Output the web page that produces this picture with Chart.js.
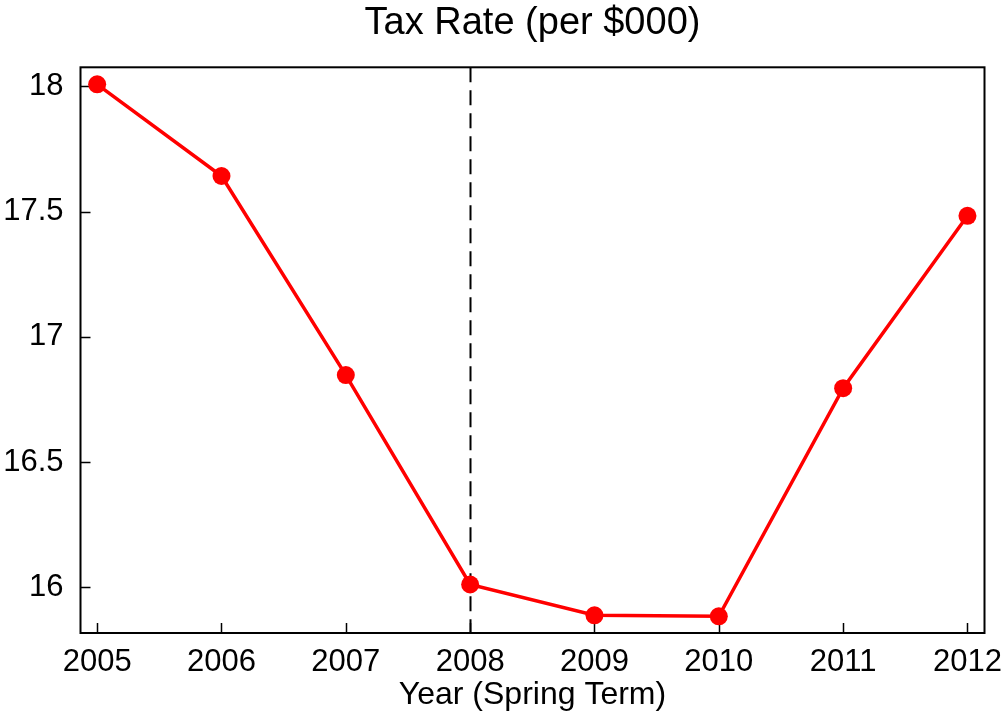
<!DOCTYPE html>
<html lang="en">
<head>
<title>Tax Rate (per $000)</title>
<meta charset="utf-8"/>
<script src="https://cdn.jsdelivr.net/npm/chart.js"></script>
<style>
html, body { margin: 0; padding: 0; background: #fff; }
#wrap { width: 1005px; height: 715px; }
</style>
</head>
<body>
<div id="wrap"><canvas id="chart" width="1005" height="715"></canvas></div>
<script>
"use strict";
const years = [2005, 2006, 2007, 2008, 2009, 2010, 2011, 2012];
const taxRate = [18.008, 17.642, 16.847, 16.011, 15.888, 15.884, 16.795, 17.483];
const yTicks = [16, 16.5, 17, 17.5, 18];
const markerYear = 2008;

const FONT = "'Liberation Sans', Arial, sans-serif";

// box round the plot, inward tick marks and the dashed marker line
const framePlugin = {
  id: "frame",
  beforeDatasetsDraw(chart){
    const ctx = chart.ctx;
    const a = chart.chartArea;
    const xs = chart.scales.x, ys = chart.scales.y;
    ctx.save();
    ctx.strokeStyle = "#000";
    ctx.lineWidth = 1.5;
    ctx.beginPath();
    for(const yr of years){
      const px = Math.round(xs.getPixelForValue(yr)) + 0.5;
      ctx.moveTo(px, a.bottom);
      ctx.lineTo(px, a.bottom - 10);
    }
    for(const v of yTicks){
      const py = Math.round(ys.getPixelForValue(v)) + 0.5;
      ctx.moveTo(a.left, py);
      ctx.lineTo(a.left + 10, py);
    }
    ctx.stroke();
    ctx.lineWidth = 2;
    ctx.strokeRect(a.left, a.top, a.right - a.left, a.bottom - a.top);

    const mx = Math.round(xs.getPixelForValue(markerYear)) + 0.5;
    ctx.lineWidth = 2;
    ctx.setLineDash([15, 8]);
    ctx.beginPath();
    ctx.moveTo(mx, a.top);
    ctx.lineTo(mx, a.bottom);
    ctx.stroke();
    ctx.restore();
  }
};

new Chart(document.getElementById("chart"), {
  type: "line",
  data: {
    datasets: [{
      label: "Tax Rate",
      data: years.map((y, i) => ({x: y, y: taxRate[i]})),
      borderColor: "#ff0000",
      backgroundColor: "#ff0000",
      borderWidth: 3.5,
      pointRadius: 9,
      pointHoverRadius: 9,
      pointBorderWidth: 0,
      tension: 0
    }]
  },
  options: {
    responsive: false,
    animation: false,
    layout: { padding: 0 },
    plugins: {
      legend: { display: false },
      tooltip: { enabled: false },
      title: { display: false }
    },
    scales: {
      x: {
        type: "linear",
        min: 2004.866,
        max: 2012.137,
        afterBuildTicks: (s) => { s.ticks = years.map(v => ({value: v})); },
        afterFit: (s) => { s.height = 82; s.paddingLeft = 0; s.paddingRight = 20.5; },
        grid: { display: false, drawTicks: false },
        border: { display: false },
        ticks: {
          color: "#000",
          padding: 11,
          maxRotation: 0,
          font: { family: FONT, size: 31 },
          callback: (v) => String(v)
        },
        title: {
          display: true,
          text: "Year (Spring Term)",
          color: "#000",
          padding: { top: 0, bottom: 1 },
          font: { family: FONT, size: 32 }
        }
      },
      // top axis only carries the chart title, centred over the plot
      top: {
        type: "linear",
        position: "top",
        min: 2004.866,
        max: 2012.137,
        afterFit: (s) => { s.height = 67.3; s.paddingLeft = 0; s.paddingRight = 20.5; },
        grid: { display: false, drawTicks: false },
        border: { display: false },
        ticks: { display: false },
        title: {
          display: true,
          text: "Tax Rate (per $000)",
          color: "#000",
          padding: { top: 1, bottom: 0 },
          font: { family: FONT, size: 38 }
        }
      },
      y: {
        type: "linear",
        min: 15.8174,
        max: 18.076,
        afterBuildTicks: (s) => { s.ticks = yTicks.map(v => ({value: v})); },
        afterFit: (s) => { s.width = 80.5; },
        grid: { display: false, drawTicks: false },
        border: { display: false },
        ticks: {
          color: "#000",
          padding: 17,
          font: { family: FONT, size: 31 },
          callback: (v) => String(v)
        }
      }
    }
  },
  plugins: [framePlugin]
});
</script>
</body>
</html>
